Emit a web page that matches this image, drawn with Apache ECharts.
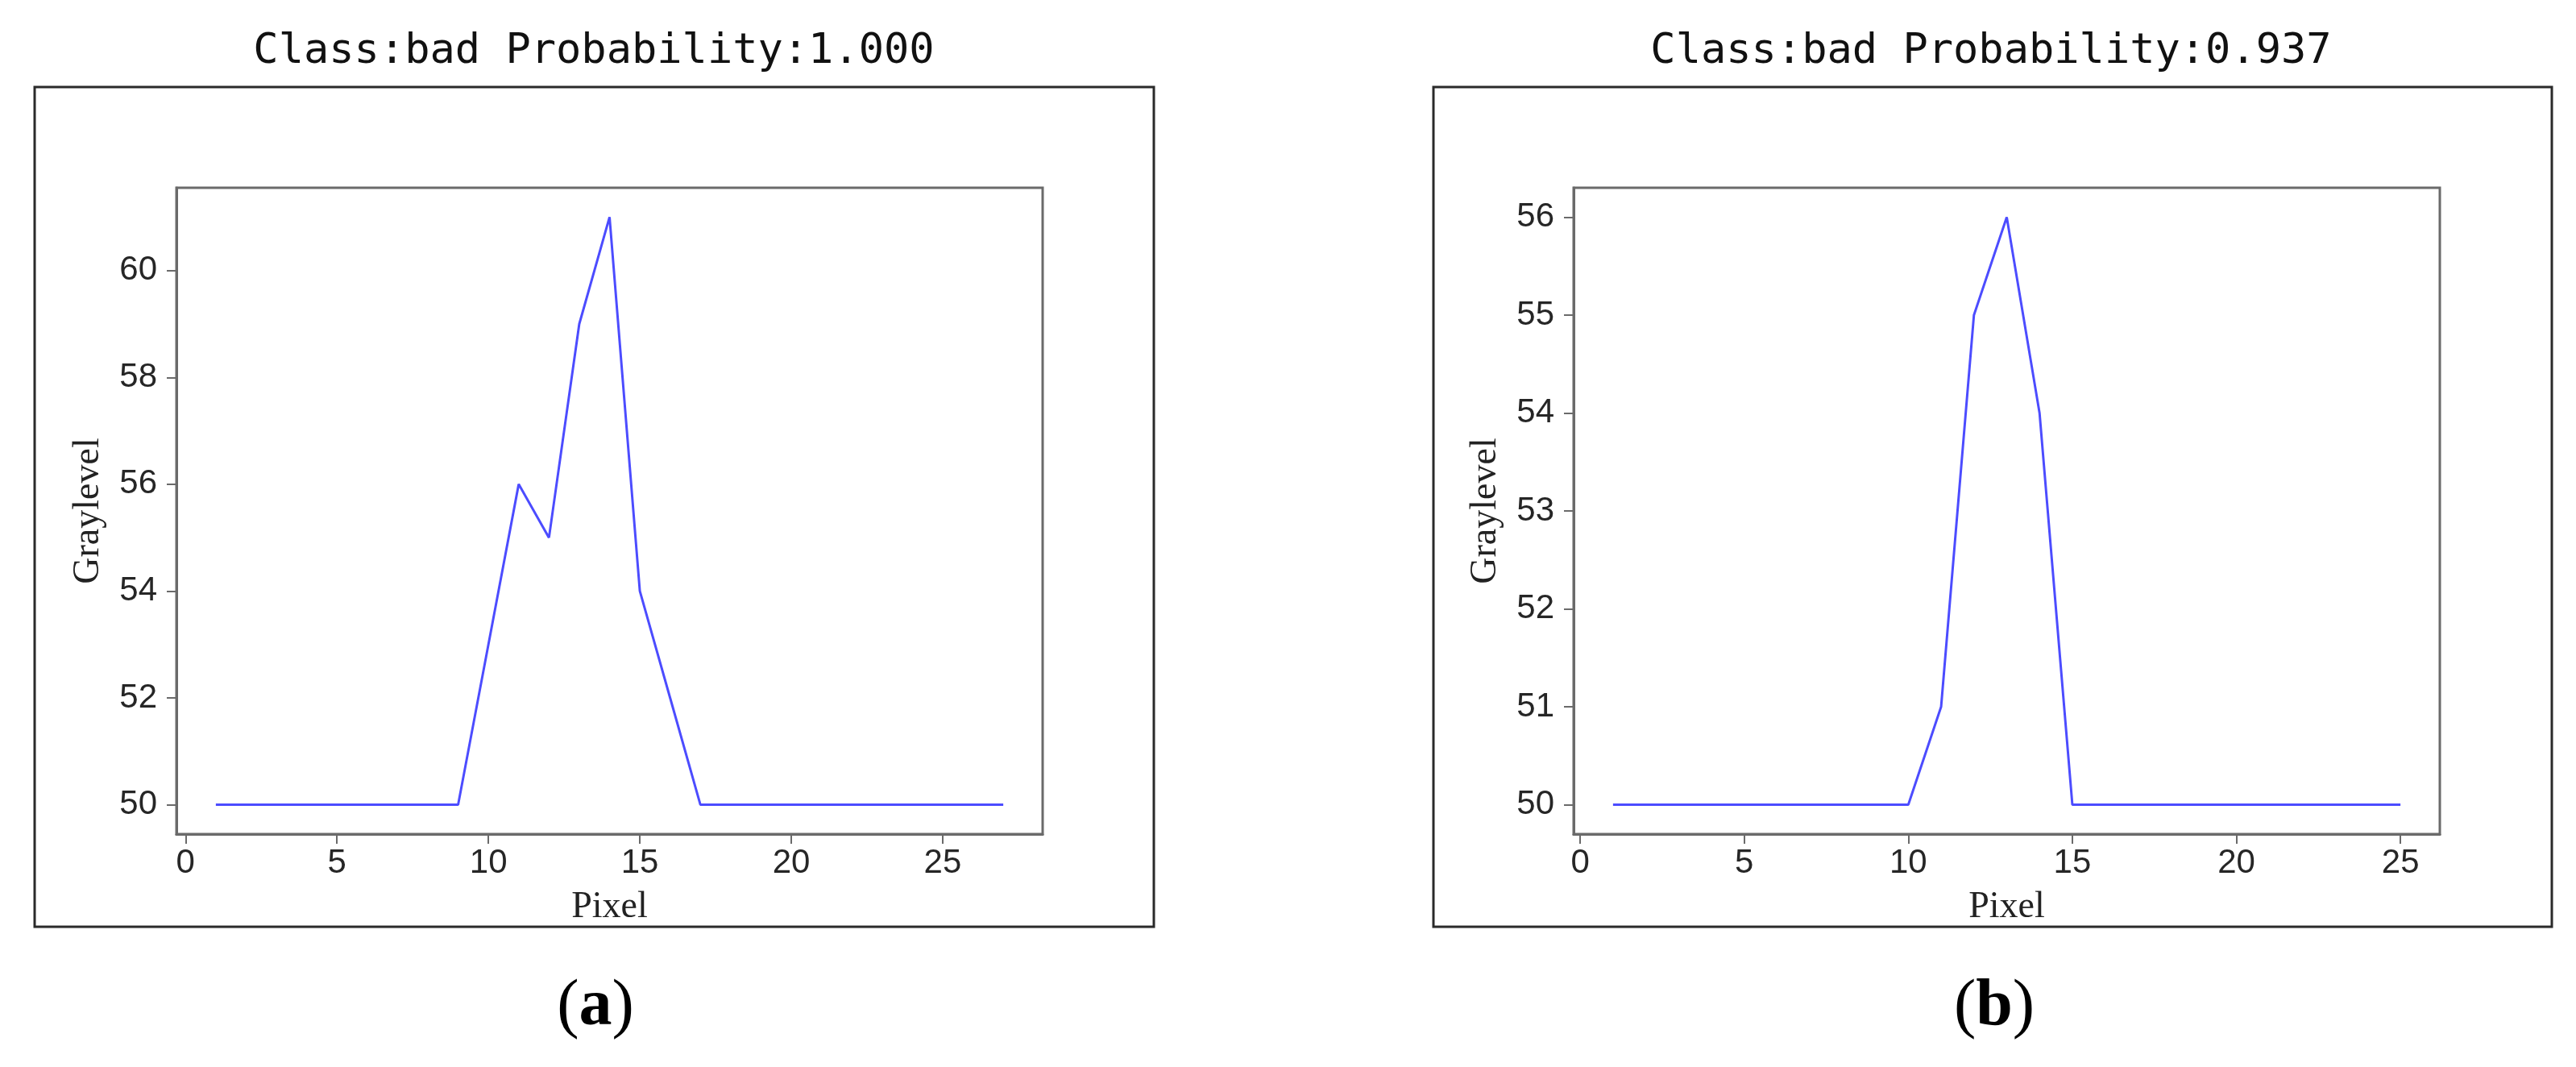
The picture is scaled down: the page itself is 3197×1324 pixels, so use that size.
<!DOCTYPE html>
<html>
<head>
<meta charset="utf-8">
<script src="https://cdn.jsdelivr.net/npm/echarts@6/dist/echarts.min.js"></script>
<style>
html,body{margin:0;padding:0;background:#fff;}
#chart{width:3197px;height:1324px;}
</style>
</head>
<body>
<div id="chart"></div>
<script>
// ---- data ----
const pixelsA = [1,2,3,4,5,6,7,8,9,10,11,12,13,14,15,16,17,18,19,20,21,22,23,24,25,26,27];
const grayA   = [50,50,50,50,50,50,50,50,50,53,56,55,59,61,54,52,50,50,50,50,50,50,50,50,50,50,50];
const pixelsB = [1,2,3,4,5,6,7,8,9,10,11,12,13,14,15,16,17,18,19,20,21,22,23,24,25];
const grayB   = [50,50,50,50,50,50,50,50,50,50,51,55,56,54,50,50,50,50,50,50,50,50,50,50,50];
const xTicks  = [0,5,10,15,20,25];
const yTicksA = [50,52,54,56,58,60];
const yTicksB = [50,51,52,53,54,55,56];
const titleA = 'Class:bad Probability:1.000';
const titleB = 'Class:bad Probability:0.937';
const xName = 'Pixel';
const yName = 'Graylevel';
const captionA = 'a';
const captionB = 'b';

const chart = echarts.init(document.getElementById('chart'));

const axisCol = '#6a6a6a';
const labelStyle = {fontFamily:'Liberation Sans, Arial, sans-serif', fontSize:42, color:'#262626'};
const nameStyle = {fontFamily:'Liberation Serif, Times New Roman, serif', fontSize:46, color:'#222'};

function xAxis(gi, max, min) {
  return {
    type:'value', gridIndex:gi, min:min, max:max,
    name:xName, nameLocation:'middle', nameGap:68, nameTextStyle:nameStyle,
    axisLine:{show:true, onZero:false, lineStyle:{color:axisCol, width:3}},
    axisTick:{show:true, inside:false, length:12, lineStyle:{color:axisCol, width:2}, customValues:xTicks},
    axisLabel:Object.assign({margin:15, customValues:xTicks}, labelStyle),
    splitLine:{show:false}
  };
}
function yAxis(gi, min, max, ticks) {
  return {
    type:'value', gridIndex:gi, min:min, max:max,
    name:yName, nameLocation:'middle', nameGap:86, nameTextStyle:nameStyle,
    axisLine:{show:true, onZero:false, lineStyle:{color:axisCol, width:3}},
    axisTick:{show:true, inside:false, length:12, lineStyle:{color:axisCol, width:2}, customValues:ticks},
    axisLabel:Object.assign({margin:24, customValues:ticks}, labelStyle),
    splitLine:{show:false}
  };
}

const titleFont = {fontFamily:'DejaVu Sans Mono, Liberation Mono, monospace', fontSize:52, fill:'#111'};

chart.setOption({
  animation:false,
  backgroundColor:'#fff',
  grid:[
    {left:219, top:233, width:1075, height:802, show:true, borderColor:axisCol, borderWidth:3, backgroundColor:'#fff'},
    {left:1953, top:233, width:1075, height:802, show:true, borderColor:axisCol, borderWidth:3, backgroundColor:'#fff'}
  ],
  xAxis:[xAxis(0, 28.3, -0.3), xAxis(1, 26.2, -0.2)],
  yAxis:[yAxis(0, 49.45, 61.55, yTicksA), yAxis(1, 49.7, 56.3, yTicksB)],
  series:[
    {type:'line', xAxisIndex:0, yAxisIndex:0, data:pixelsA.map((x,i)=>[x,grayA[i]]),
     showSymbol:false, lineStyle:{color:'rgba(0,0,255,0.7)', width:3}, itemStyle:{color:'rgba(0,0,255,0.7)'}},
    {type:'line', xAxisIndex:1, yAxisIndex:1, data:pixelsB.map((x,i)=>[x,grayB[i]]),
     showSymbol:false, lineStyle:{color:'rgba(0,0,255,0.7)', width:3}, itemStyle:{color:'rgba(0,0,255,0.7)'}}
  ],
  graphic:[
    {type:'rect', shape:{x:43, y:108, width:1389, height:1042}, style:{fill:null, stroke:'#2a2a2a', lineWidth:3}, z:-1},
    {type:'rect', shape:{x:1779, y:108, width:1388, height:1042}, style:{fill:null, stroke:'#2a2a2a', lineWidth:3}, z:-1},
    {type:'text', x:737, y:64, style:Object.assign({text:titleA, align:'center', verticalAlign:'middle'}, titleFont)},
    {type:'text', x:2471, y:64, style:Object.assign({text:titleB, align:'center', verticalAlign:'middle'}, titleFont)},
    {type:'text', x:739, y:1250, style:{text:'({b|'+captionA+'})', align:'center', verticalAlign:'middle',
      fontFamily:'Liberation Serif, Times New Roman, serif', fontSize:82, fill:'#000',
      rich:{b:{fontFamily:'Liberation Serif, Times New Roman, serif', fontSize:82, fontWeight:'bold', fill:'#000'}}}},
    {type:'text', x:2475, y:1250, style:{text:'({b|'+captionB+'})', align:'center', verticalAlign:'middle',
      fontFamily:'Liberation Serif, Times New Roman, serif', fontSize:82, fill:'#000',
      rich:{b:{fontFamily:'Liberation Serif, Times New Roman, serif', fontSize:82, fontWeight:'bold', fill:'#000'}}}}
  ]
});
</script>
</body>
</html>
